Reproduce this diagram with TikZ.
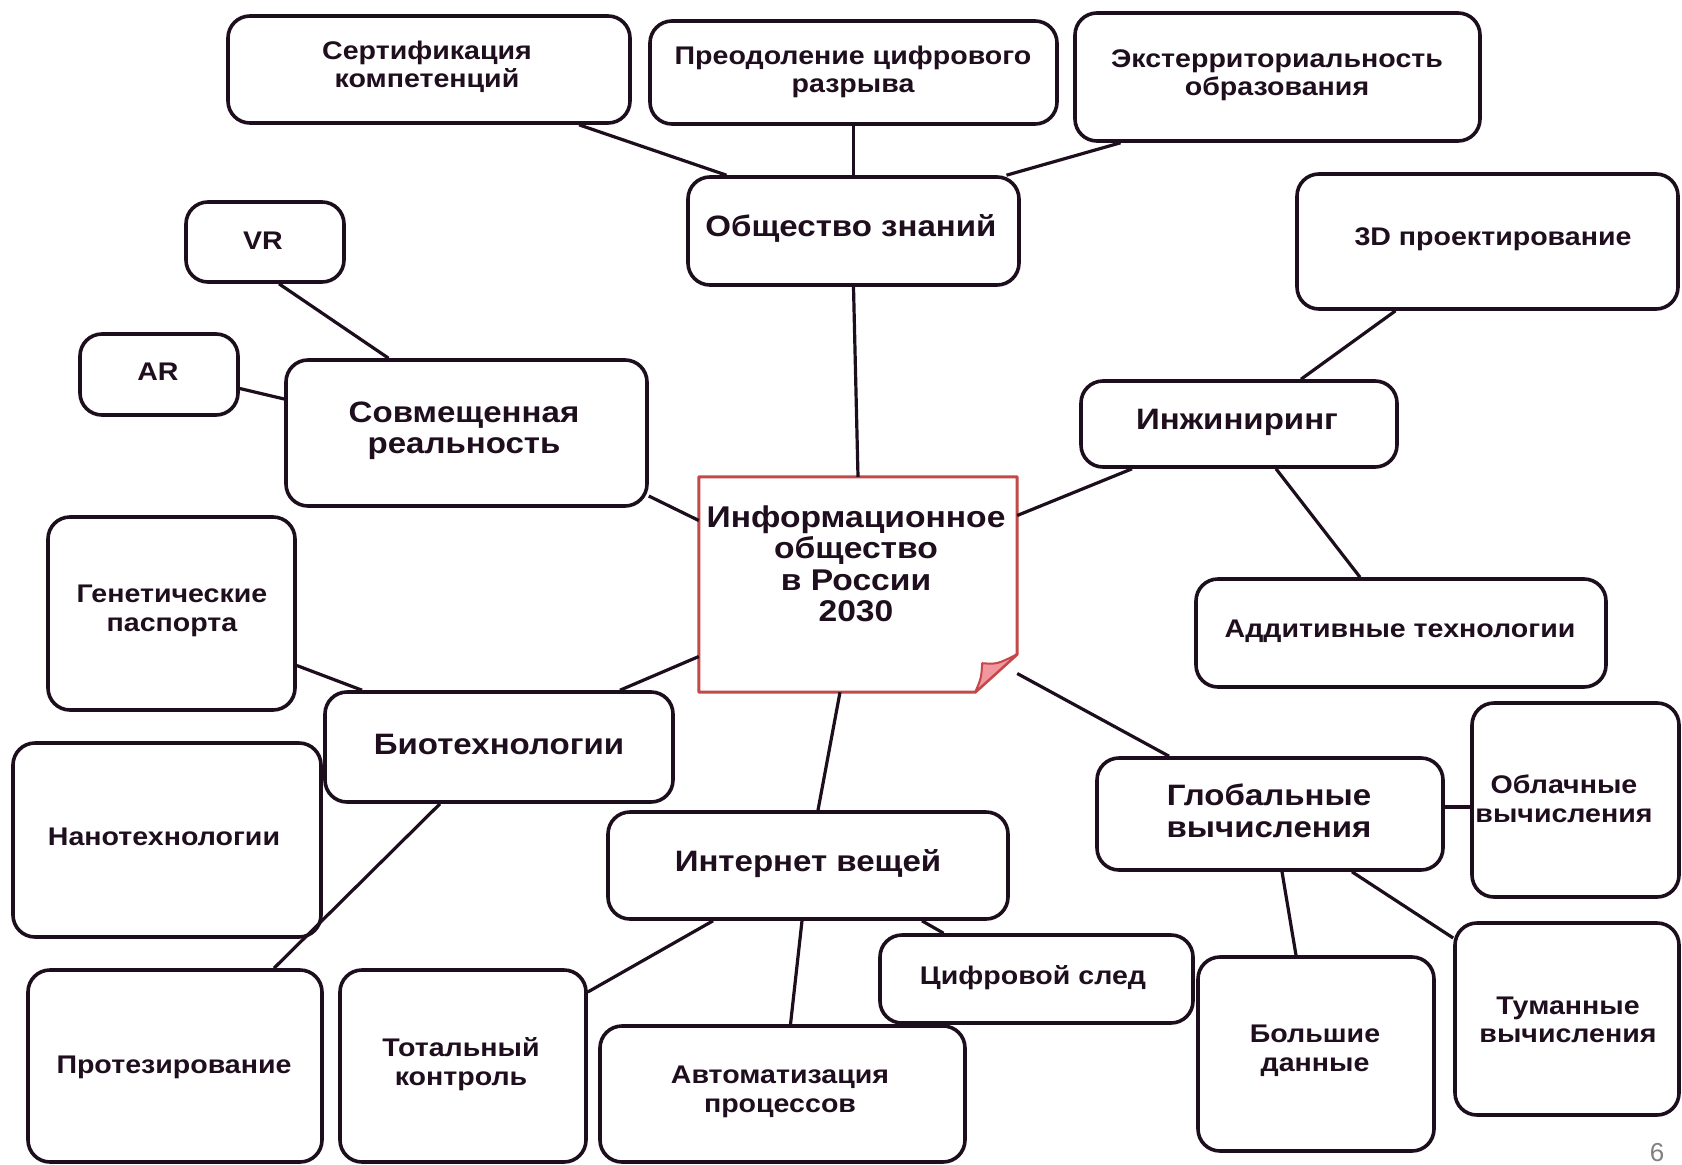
\documentclass[tikz,border=0pt]{standalone}
\usepackage{fontspec}
\setmainfont{Liberation Sans}
\newfontfamily\widefont[FakeStretch=1.12]{Liberation Sans}
\definecolor{lin}{RGB}{28,14,28}
\definecolor{txt}{RGB}{30,14,30}
\definecolor{redb}{RGB}{196,72,72}
\definecolor{fold}{RGB}{242,150,160}
\begin{document}
\begin{tikzpicture}[x=1pt,y=-1pt,
  box/.style={draw=lin,line width=3.6pt,rounded corners=22pt,fill=white,inner sep=0pt},
  leaf/.style={text=txt,font=\widefont\bfseries\fontsize{25.5}{28.5}\selectfont,align=center,inner sep=0pt},
  hub/.style={text=txt,font=\widefont\bfseries\fontsize{29.5}{31.5}\selectfont,align=center,inner sep=0pt},
  con/.style={draw=lin,line width=3.2pt}]
\useasboundingbox (0,0) rectangle (1682,1165);
\fill[white] (0,0) rectangle (1682,1165);
\clip (0,0) rectangle (1682,1165);

% boxes
\node[box,minimum width=402pt,minimum height=107pt] (cert) at (429,69.5) {};
\node[box,minimum width=407pt,minimum height=103pt] (preod) at (853.5,72.5) {};
\node[box,minimum width=405pt,minimum height=128pt] (ekst) at (1277.5,77) {};
\node[box,minimum width=331pt,minimum height=108pt] (obsh) at (853.5,231) {};
\node[box,minimum width=158pt,minimum height=80pt] (vr) at (265,242) {};
\node[box,minimum width=158pt,minimum height=81pt] (ar) at (159,374.5) {};
\node[box,minimum width=361pt,minimum height=146pt] (sovm) at (466.5,433) {};
\node[box,minimum width=381pt,minimum height=135pt] (d3) at (1487.5,241.5) {};
\node[box,minimum width=316pt,minimum height=86pt] (inzh) at (1239,424) {};
\node[box,minimum width=410pt,minimum height=108pt] (addit) at (1401,633) {};
\node[box,minimum width=247pt,minimum height=193pt] (genet) at (171.5,613.5) {};
\node[box,minimum width=348pt,minimum height=110pt] (bio) at (499,747) {};
\node[box,minimum width=308pt,minimum height=194pt] (nano) at (167,840) {};
\node[box,minimum width=346pt,minimum height=112pt] (glob) at (1270,814) {};
\node[box,minimum width=207pt,minimum height=194pt] (oblach) at (1575.5,800) {};
\node[box,minimum width=224pt,minimum height=192pt] (tuman) at (1567,1019) {};
\node[box,minimum width=400pt,minimum height=107pt] (internet) at (808,865.5) {};
\node[box,minimum width=313pt,minimum height=88pt] (cifr) at (1036.5,979) {};
\node[box,minimum width=294pt,minimum height=192pt] (protez) at (175,1066) {};
\node[box,minimum width=246pt,minimum height=192pt] (total) at (463,1066) {};
\node[box,minimum width=365pt,minimum height=136pt] (avtom) at (782.5,1094) {};
\node[box,minimum width=236pt,minimum height=194pt] (bolsh) at (1316,1054) {};

% central note
\node[inner sep=0pt,minimum width=318pt,minimum height=215pt] (center) at (858,584.5) {};
\draw[redb,line width=3pt,fill=white,line join=round]
  (center.north west) -- (center.north east) -- ([yshift=38pt]center.south east)
  -- ([xshift=-42pt]center.south east) -- (center.south west) -- cycle;
\draw[redb,line width=2pt,fill=fold,line join=round]
  ([yshift=38pt]center.south east) -- ([xshift=-42pt]center.south east)
  .. controls ([xshift=-36pt,yshift=14pt]center.south east) .. ([xshift=-35pt,yshift=29pt]center.south east)
  .. controls ([xshift=-20pt,yshift=28pt]center.south east) .. cycle;

% connectors
\draw[con] ([xshift=150pt]cert.south) -- ([xshift=-127pt]obsh.north);
\draw[con] (preod.south) -- (obsh.north);
\draw[con] ([xshift=-157pt]ekst.south) -- ([xshift=153pt]obsh.north);
\draw[con] (obsh.south) -- (center.north);
\draw[con] ([xshift=14pt]vr.south) -- ([xshift=-78pt]sovm.north);
\draw[con] ([yshift=-14pt]ar.east) -- ([yshift=34pt]sovm.west);
\draw[con] ([yshift=-63pt]sovm.east) -- ([yshift=64pt]center.west);
\draw[con] ([xshift=-92pt]d3.south) -- ([xshift=62pt]inzh.north);
\draw[con] ([xshift=-107pt]inzh.south) -- ([yshift=69pt]center.east);
\draw[con] ([xshift=37pt]inzh.south) -- ([xshift=-41pt]addit.north);
\draw[con] ([yshift=-52pt]genet.east) -- ([xshift=-137pt]bio.north);
\draw[con] ([xshift=121pt]bio.north) -- ([yshift=-72pt]center.west);
\draw[con] ([xshift=-59pt]bio.south) -- ([xshift=99pt]protez.north);
\draw[con] ([xshift=-18pt]center.south) -- ([xshift=10pt]internet.north);
\draw[con] ([yshift=-89pt]center.east) -- ([xshift=-101pt]glob.north);
\draw[con] ([xshift=-95pt]internet.south) -- ([yshift=74pt]total.east);
\draw[con] ([xshift=-6pt]internet.south) -- ([xshift=8pt]avtom.north);
\draw[con] ([xshift=114pt]internet.south) -- ([xshift=-93pt]cifr.north);
\draw[con] ([yshift=7pt]glob.east) -- ([yshift=-7pt]oblach.west);
\draw[con] ([xshift=12pt]glob.south) -- ([xshift=-20pt]bolsh.north);
\draw[con] ([xshift=82pt]glob.south) -- ([yshift=81pt]tuman.west);

% texts
\node[leaf] (t-cert) at (427,67) {Сертификация\\компетенций};
\node[leaf] (t-preod) at (853,72) {Преодоление цифрового\\разрыва};
\node[leaf] (t-ekst) at (1277,75) {Экстерриториальность\\образования};
\node[hub] (t-obsh) at (851,228) {Общество знаний};
\node[leaf] (t-vr) at (263,241) {VR};
\node[leaf] (t-ar) at (158,372) {AR};
\node[hub] (t-sovm) at (464,431) {Совмещенная\\реальность};
\node[leaf] (t-d3) at (1493,239) {3D проектирование};
\node[hub] (t-inzh) at (1237,422) {Инжиниринг};
\node[hub,font=\widefont\bfseries\fontsize{30}{31.5}\selectfont] (t-center) at (856,564) {Информационное\\общество\\в России\\2030};
\node[leaf] (t-addit) at (1400,631) {Аддитивные технологии};
\node[leaf] (t-genet) at (172,611) {Генетические\\паспорта};
\node[hub] (t-bio) at (499,744) {Биотехнологии};
\node[leaf] (t-nano) at (164,837) {Нанотехнологии};
\node[hub] (t-glob) at (1269,811) {Глобальные\\вычисления};
\node[leaf] (t-oblach) at (1564,799) {Облачные\\вычисления};
\node[hub] (t-internet) at (808,864) {Интернет вещей};
\node[leaf] (t-cifr) at (1033,978) {Цифровой след};
\node[leaf] (t-protez) at (174,1067) {Протезирование};
\node[leaf] (t-total) at (461,1064) {Тотальный\\контроль};
\node[leaf] (t-avtom) at (780,1092) {Автоматизация\\процессов};
\node[leaf] (t-bolsh) at (1315,1051) {Большие\\данные};
\node[leaf] (t-tuman) at (1568,1020) {Туманные\\вычисления};
\node[anchor=base,text=black!50,font=\fontsize{26}{28}\selectfont,inner sep=0pt] (pnum) at (1657,1161) {6};
\end{tikzpicture}
\end{document}
